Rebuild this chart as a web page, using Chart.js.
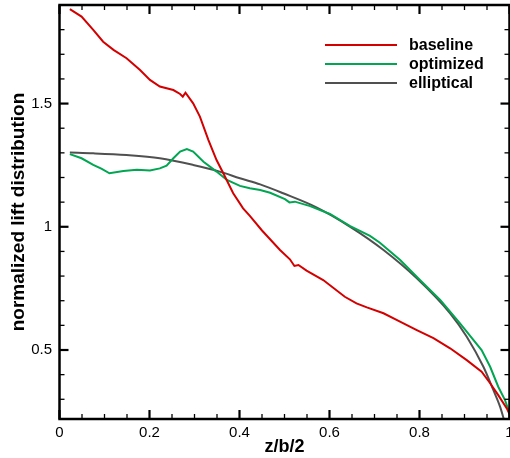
<!DOCTYPE html>
<html>
<head>
<meta charset="utf-8">
<script src="https://cdn.jsdelivr.net/npm/chart.js@4/dist/chart.umd.min.js"></script>
<style>
html,body{margin:0;padding:0;background:#fff;}
canvas{display:block;}
</style>
</head>
<body>
<canvas id="c" width="510" height="458"></canvas>
<script>
// ---- data ----
const seriesNames = ["baseline", "optimized", "elliptical"];

const baselineZ = [0.023,0.049,0.075,0.097,0.12,0.149,0.179,0.201,0.223,0.253,0.268,0.274,0.28,0.297,0.312,0.331,0.349,0.364,0.386,0.408,0.423,0.45,0.49,0.512,0.522,0.531,0.549,0.586,0.634,0.66,0.683,0.72,0.749,0.794,0.831,0.868,0.905,0.938,0.957,0.975,0.994,1.0];
const baselineL = [1.883,1.853,1.799,1.751,1.718,1.684,1.636,1.596,1.569,1.555,1.539,1.528,1.544,1.501,1.447,1.352,1.271,1.217,1.136,1.075,1.044,0.985,0.906,0.868,0.841,0.845,0.822,0.784,0.716,0.689,0.673,0.649,0.622,0.581,0.548,0.507,0.459,0.412,0.365,0.317,0.263,0.24];

const optimizedZ = [0.023,0.049,0.075,0.094,0.111,0.142,0.172,0.201,0.223,0.238,0.253,0.268,0.283,0.297,0.32,0.349,0.372,0.401,0.423,0.446,0.468,0.501,0.511,0.523,0.557,0.601,0.646,0.69,0.712,0.757,0.801,0.846,0.89,0.938,0.957,0.975,0.99,1.0];
const optimizedL = [1.295,1.278,1.251,1.235,1.217,1.226,1.231,1.228,1.237,1.248,1.278,1.305,1.315,1.305,1.264,1.224,1.19,1.166,1.156,1.149,1.138,1.112,1.099,1.102,1.084,1.052,1.003,0.963,0.935,0.865,0.784,0.703,0.608,0.5,0.432,0.351,0.297,0.244];

const ellipticalZ = [0.023,0.075,0.149,0.223,0.297,0.356,0.401,0.446,0.497,0.571,0.646,0.72,0.794,0.868,0.905,0.942,0.964,0.979,0.988];
const ellipticalL = [1.301,1.298,1.291,1.278,1.251,1.224,1.197,1.172,1.136,1.079,1.0,0.906,0.791,0.649,0.554,0.432,0.338,0.27,0.216];

const xTickLabels = [0, 0.2, 0.4, 0.6, 0.8, 1];
const yTickLabels = [0.5, 1, 1.5];
const xMinorTicks = [0.05,0.1,0.15,0.25,0.3,0.35,0.45,0.5,0.55,0.65,0.7,0.75,0.85,0.9,0.95];
const yMinorTicks = [0.3,0.4,0.6,0.7,0.8,0.9,1.1,1.2,1.3,1.4,1.6,1.7,1.8];

const xRange = [0, 1];
const yRange = [0.22, 1.9];

// ---- build ----
const toPts = (xs, ys) => xs.map((x, i) => ({x: x, y: ys[i]}));
const colors = ["#d40000", "#00a651", "#505050"];

const frameTicks = {
  id: 'frameTicks',
  afterDatasetsDraw(chart) {
    const ctx = chart.ctx, a = chart.chartArea;
    const xs = chart.scales.x, ys = chart.scales.y;
    ctx.save();
    ctx.strokeStyle = '#000';
    ctx.lineCap = 'butt';
    const major = 9, minor = 5;
    const drawX = (vals, len, w) => {
      ctx.lineWidth = w;
      vals.forEach(v => {
        const px = xs.getPixelForValue(v);
        ctx.beginPath(); ctx.moveTo(px, a.bottom); ctx.lineTo(px, a.bottom - len); ctx.stroke();
        ctx.beginPath(); ctx.moveTo(px, a.top); ctx.lineTo(px, a.top + len); ctx.stroke();
      });
    };
    const drawY = (vals, len, w) => {
      ctx.lineWidth = w;
      vals.forEach(v => {
        const py = ys.getPixelForValue(v);
        ctx.beginPath(); ctx.moveTo(a.left, py); ctx.lineTo(a.left + len, py); ctx.stroke();
        ctx.beginPath(); ctx.moveTo(a.right, py); ctx.lineTo(a.right - len, py); ctx.stroke();
      });
    };
    drawX(xMinorTicks, minor, 1.3);
    drawX(xTickLabels, major, 2.2);
    drawY(yMinorTicks, minor, 1.3);
    drawY(yTickLabels, major, 2.2);
    ctx.lineWidth = 2.5;
    ctx.beginPath();
    ctx.moveTo(a.left, a.top); ctx.lineTo(a.right, a.top);
    ctx.lineTo(a.right, a.bottom); ctx.lineTo(a.left, a.bottom); ctx.closePath();
    ctx.stroke();
    // legend
    ctx.font = 'bold 16px "Liberation Sans", Arial, sans-serif';
    ctx.textBaseline = 'middle';
    ctx.fillStyle = '#000';
    const ly = [45, 64, 83];
    chart.data.datasets.forEach((ds, i) => {
      ctx.strokeStyle = ds.borderColor;
      ctx.lineWidth = 2;
      ctx.beginPath(); ctx.moveTo(325, ly[i]); ctx.lineTo(397, ly[i]); ctx.stroke();
      ctx.fillText(ds.label, 409, ly[i] + 1);
    });
    ctx.restore();
  }
};

const zeroPad = s => { s.paddingLeft = 0; s.paddingRight = 0; s.paddingTop = 0; s.paddingBottom = 0; };

const tickFont = {family: '"Liberation Sans", Arial, sans-serif', size: 15};
const xTitleFont = {family: '"Liberation Sans", Arial, sans-serif', size: 18, weight: 'bold'};
const yTitleFont = {family: '"Liberation Sans", Arial, sans-serif', size: 19, weight: 'bold'};

new Chart(document.getElementById('c'), {
  type: 'line',
  data: {
    datasets: [
      {label: seriesNames[0], data: toPts(baselineZ, baselineL), borderColor: colors[0], borderWidth: 2, pointRadius: 0, tension: 0, fill: false},
      {label: seriesNames[1], data: toPts(optimizedZ, optimizedL), borderColor: colors[1], borderWidth: 2, pointRadius: 0, tension: 0, fill: false},
      {label: seriesNames[2], data: toPts(ellipticalZ, ellipticalL), borderColor: colors[2], borderWidth: 2, pointRadius: 0, cubicInterpolationMode: 'monotone', fill: false}
    ]
  },
  options: {
    responsive: false,
    animation: false,
    events: [],
    layout: {padding: {left: 0, top: 5, right: 0.5, bottom: 0}},
    plugins: {legend: {display: false}, tooltip: {enabled: false}},
    scales: {
      x: {
        type: 'linear', min: xRange[0], max: xRange[1],
        grid: {display: false, drawTicks: false},
        border: {display: false},
        afterBuildTicks: s => { s.ticks = xTickLabels.map(v => ({value: v})); },
        afterFit: s => { s.height = 39; zeroPad(s); },
        ticks: {color: '#000', font: tickFont, padding: 5, maxRotation: 0, autoSkip: false,
          callback: v => String(v)},
        title: {display: true, text: 'z/b/2', color: '#000', font: xTitleFont, padding: {top: 0, bottom: 0}}
      },
      y: {
        type: 'linear', min: yRange[0], max: yRange[1],
        grid: {display: false, drawTicks: false},
        border: {display: false},
        afterBuildTicks: s => { s.ticks = yTickLabels.map(v => ({value: v})); },
        afterFit: s => { s.width = 59.5; zeroPad(s); },
        ticks: {color: '#000', font: tickFont, padding: 7.5, autoSkip: false,
          callback: v => String(v)},
        title: {display: true, text: 'normalized lift distribution', color: '#000', font: yTitleFont, padding: {top: 7, bottom: 0}}
      }
    }
  },
  plugins: [frameTicks]
});
</script>
</body>
</html>
